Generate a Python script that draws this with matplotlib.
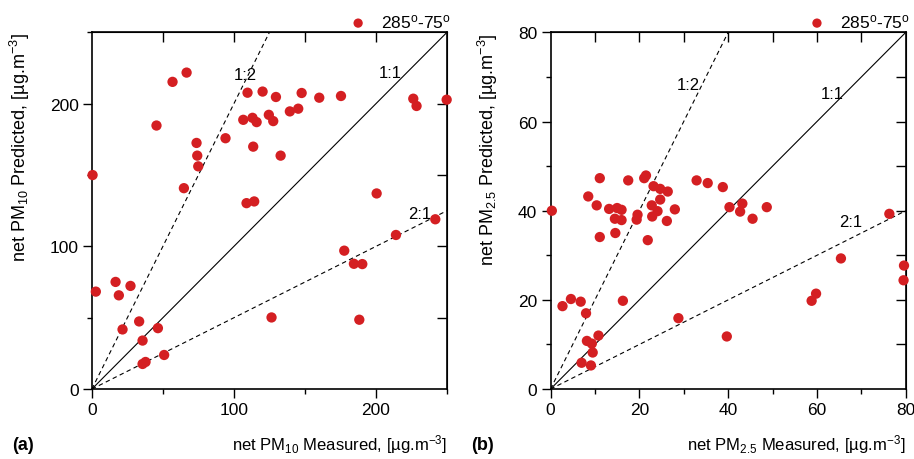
import matplotlib
matplotlib.use("Agg")
import matplotlib.pyplot as plt
import numpy as np

plt.rcParams['font.family'] = ['Liberation Sans', 'DejaVu Sans']
plt.rcParams['mathtext.fontset'] = 'custom'
plt.rcParams['mathtext.rm'] = 'Liberation Sans'
plt.rcParams['mathtext.it'] = 'Liberation Sans'

# panel (a): PM10 measured vs predicted
pm10_meas = [66.7, 56.8, 45.5, 0.5, 73.7, 74.2, 74.9, 64.8, 94.1, 109.6, 120.2, 129.6,
             147.7, 160.1, 175.4, 226.3, 228.6, 249.8, 106.6, 113.1, 116.0, 124.6, 127.7,
             139.4, 145.3, 113.6, 132.9, 200.5, 108.9, 114.3, 241.8, 214.1, 177.7, 184.5,
             190.4, 188.3, 126.5, 2.8, 16.7, 19.0, 27.2, 21.6, 33.3, 46.5, 35.7, 35.7,
             37.8, 50.9]
pm10_pred = [221.8, 215.3, 184.7, 150.0, 172.5, 163.6, 156.1, 140.8, 175.8, 207.7, 208.5, 204.7,
             207.5, 204.2, 205.4, 203.5, 198.4, 202.8, 188.7, 190.1, 187.1, 192.2, 187.8,
             194.6, 196.5, 169.9, 163.6, 137.1, 130.3, 131.5, 119.0, 108.0, 97.0, 87.8,
             87.6, 48.6, 50.2, 68.3, 75.1, 65.7, 72.3, 41.8, 47.4, 42.7, 34.0, 17.6,
             19.0, 23.9]

# panel (b): PM2.5 measured vs predicted
pm25_meas = [11.1, 17.5, 21.1, 21.5, 32.9, 35.4, 38.8, 8.5, 23.2, 24.7, 26.4, 0.3,
             10.4, 13.2, 15.0, 16.0, 14.5, 16.0, 19.6, 19.4, 22.8, 24.1, 22.9, 24.7,
             28.0, 26.2, 14.6, 11.1, 21.9, 40.3, 43.2, 42.7, 45.5, 48.7, 76.3, 65.4,
             79.6, 79.5, 59.8, 58.8, 39.7, 28.8, 16.3, 2.7, 4.6, 6.8, 8.0, 8.2,
             9.3, 10.8, 9.5, 7.0, 9.1]
pm25_pred = [47.3, 46.8, 47.3, 47.9, 46.8, 46.2, 45.3, 43.2, 45.5, 44.9, 44.3, 40.0,
             41.2, 40.4, 40.6, 40.2, 38.2, 37.9, 39.1, 38.0, 41.2, 39.9, 38.7, 42.5,
             40.3, 37.7, 35.0, 34.1, 33.4, 40.8, 41.6, 39.8, 38.2, 40.8, 39.3, 29.3,
             27.7, 24.4, 21.4, 19.8, 11.8, 15.9, 19.8, 18.6, 20.2, 19.6, 17.0, 10.8,
             10.2, 12.0, 8.2, 5.9, 5.3]

legend_label = '285$^{\\rm o}$-75$^{\\rm o}$'
red = '#d41f22'

fig = plt.figure(figsize=(9.14, 4.6), dpi=100)
ax1 = fig.add_axes([0.1005, 0.152, 0.3885, 0.7755])
ax2 = fig.add_axes([0.6023, 0.152, 0.3887, 0.7755])


def setup_panel(ax, meas, pred, vmax, major, minor, name, ratio_pos):
    ax.set_xlim(0, vmax)
    ax.set_ylim(0, vmax)
    # reference lines 1:1, 1:2, 2:1
    ax.plot([0, vmax], [0, vmax], color='black', lw=0.8, zorder=1)
    ax.plot([0, vmax / 2], [0, vmax], color='black', lw=0.8, ls=(0, (4, 3)), zorder=1)
    ax.plot([0, vmax], [0, vmax / 2], color='black', lw=0.8, ls=(0, (4, 3)), zorder=1)
    for txt, (tx, ty) in ratio_pos.items():
        ax.text(tx, ty, txt, fontsize=12, ha='center', va='center')
    ax.scatter(meas, pred, s=55, color=red, edgecolors='none', label=legend_label,
               zorder=3, clip_on=False)

    ax.set_xticks(np.arange(0, vmax + 1, major))
    ax.set_yticks(np.arange(0, vmax + 1, major))
    ax.set_xticks(np.arange(minor, vmax + 1, major), minor=True)
    ax.set_yticks(np.arange(minor, vmax + 1, major), minor=True)
    ax.tick_params(which='major', direction='out', length=6.5, width=1.0,
                   labelsize=12.5, pad=3)
    ax.tick_params(which='minor', direction='out', length=3.5, width=1.0)
    for sp in ax.spines.values():
        sp.set_linewidth(1.2)

    # inward ticks on top and right
    top = ax.secondary_xaxis('top')
    top.set_xticks(np.arange(minor, vmax, minor))
    top.tick_params(direction='in', length=7, width=1.0, labeltop=False)
    right = ax.secondary_yaxis('right')
    right.set_yticks(np.arange(minor, vmax, minor))
    right.tick_params(direction='in', length=7, width=1.0, labelright=False)

    ax.set_xlabel('net PM$_{%s}$ Measured, [µg.m$^{-3}$]' % name, fontsize=12,
                  loc='right', labelpad=11)
    ax.set_ylabel('net PM$_{%s}$ Predicted, [µg.m$^{-3}$]' % name, fontsize=13,
                  loc='top', labelpad=13)
    ax.legend(loc='lower right', bbox_to_anchor=(1.02, 0.995), frameon=False,
              fontsize=12.5, handletextpad=0.3, borderaxespad=0.0, borderpad=0.2,
              markerscale=0.9)


setup_panel(ax1, pm10_meas, pm10_pred, 250, 100, 50, '10',
            {'1:2': (107.7, 220.4), '1:1': (209.9, 221.8), '2:1': (231, 123.2)})
setup_panel(ax2, pm25_meas, pm25_pred, 80, 20, 10, '2.5',
            {'1:2': (31, 68.3), '1:1': (63.4, 66.3), '2:1': (67.7, 37.5)})

fig.text(0.013, 0.012, '(a)', fontsize=13, fontweight='bold', va='bottom')
fig.text(0.516, 0.012, '(b)', fontsize=13, fontweight='bold', va='bottom')

fig.savefig('out.png', dpi=100)
plt.close(fig)
